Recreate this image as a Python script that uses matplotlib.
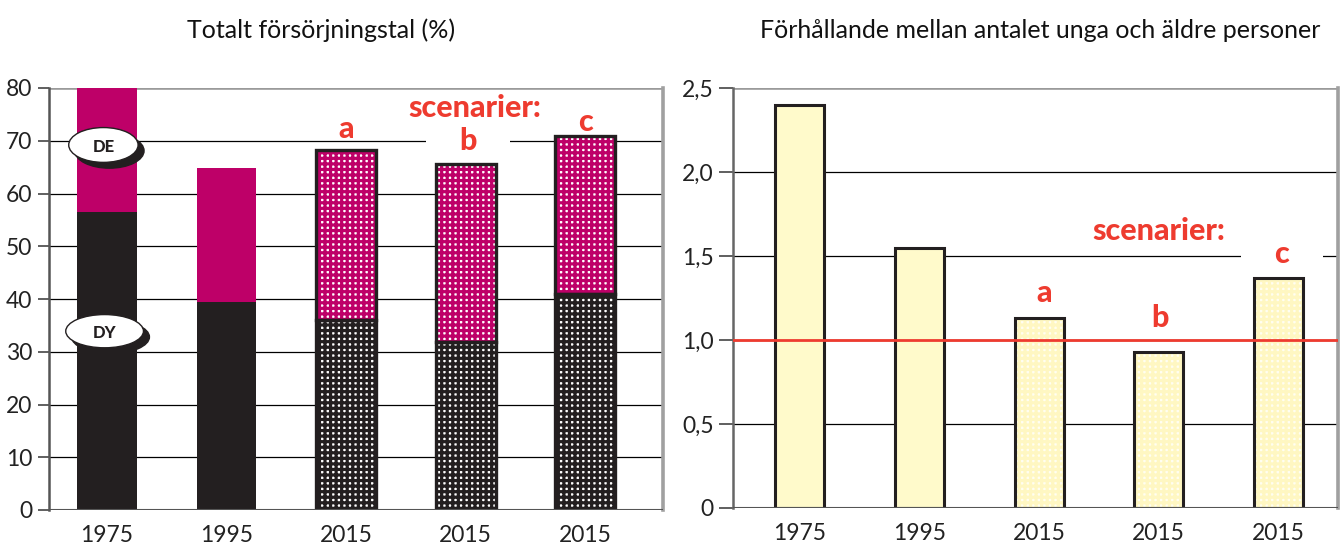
import matplotlib
matplotlib.use("Agg")
import matplotlib.pyplot as plt
from matplotlib.patches import Ellipse
import numpy as np

plt.rcParams['font.family'] = ['Lato', 'DejaVu Sans']
plt.rcParams['hatch.linewidth'] = 2.3

# ---- data ----
years = ['1975', '1995', '2015', '2015', '2015']
dy = [56.5, 39.5, 36.0, 31.8, 41.0]          # young dependency
de = [23.5, 25.4, 32.2, 33.8, 29.9]          # elderly dependency
ratio = [2.40, 1.55, 1.13, 0.93, 1.37]       # young / elderly
scen_labels = ['a', 'b', 'c']
left_ticks = [0, 10, 20, 30, 40, 50, 60, 70, 80]
right_ticks = [0, 0.5, 1.0, 1.5, 2.0, 2.5]
right_ticklabels = ['0', '0,5', '1,0', '1,5', '2,0', '2,5']

MAG = '#BE0068'
DARK = '#231F20'
YEL = '#FFFACB'
YEL_H = '#FFF7C2'
RED = '#EE3B2F'
RFS = 22

fig = plt.figure(figsize=(13.4, 5.46), dpi=100)
x = np.arange(len(years))


def red_label(ax, xx, yy, s, knockout=None):
    if knockout is not None:
        # white knockout behind the label, under the bars but over the gridlines
        ax.text(xx, yy, s, ha='center', va='center', fontsize=RFS, fontweight='black',
                color='white', zorder=1,
                bbox=dict(boxstyle='square,pad=%s' % knockout, facecolor='white',
                          edgecolor='none'))
    ax.text(xx, yy, s, ha='center', va='center', fontsize=RFS, fontweight='black',
            color=RED, zorder=6)


# ================= LEFT =================
ax1 = fig.add_axes([49/1340, 1-510/546, (663-49)/1340, (510-88)/546])
ax1.set_xlim(-0.485, 4.65)
ax1.set_ylim(0, 80)
for t in left_ticks[1:-1]:
    ax1.axhline(t, color='black', lw=0.9, zorder=0)
ax1.axhline(80, color='#9A9A9A', lw=2.6, zorder=0.5)
ax1.axhline(0, color='#555555', lw=1.5, zorder=3)

w1 = 0.5
for i in range(len(years)):
    if i < 2:
        ax1.bar(x[i], dy[i], w1, color=DARK, edgecolor=DARK, lw=0, zorder=2)
        ax1.bar(x[i], de[i], w1, bottom=dy[i], color=MAG, edgecolor=MAG, lw=0, zorder=2)
    else:
        ax1.bar(x[i], dy[i], w1, facecolor='white', edgecolor=DARK, hatch='+++', lw=0, zorder=2)
        ax1.bar(x[i], de[i], w1, bottom=dy[i], facecolor='white', edgecolor=MAG, hatch='+++', lw=0, zorder=2)
        ax1.bar(x[i], dy[i], w1, fill=False, edgecolor=DARK, lw=2.4, zorder=2.5)
        ax1.bar(x[i], de[i], w1, bottom=dy[i], fill=False, edgecolor=DARK, lw=2.4, zorder=2.5)

ax1.set_yticks(left_ticks)
ax1.set_yticklabels([str(t) for t in left_ticks], fontsize=16.5, color='#222222')
ax1.set_xticks(x)
ax1.set_xticklabels(years, fontsize=16.5, color='#222222')
ax1.tick_params(axis='y', length=8, width=1.2, color='#444444', pad=4)
ax1.tick_params(axis='x', length=0, pad=11)
for s in ['top', 'bottom']:
    ax1.spines[s].set_visible(False)
ax1.spines['left'].set_color('#555555')
ax1.spines['left'].set_linewidth(1.8)
ax1.spines['right'].set_color('#A0A0A0')
ax1.spines['right'].set_linewidth(2.6)

# DE / DY ellipse labels
for (cx, cy, ww, hh, txt) in [(-0.03, 69.2, 0.58, 6.6, 'DE'), (-0.02, 33.9, 0.65, 6.3, 'DY')]:
    sh = Ellipse((cx + 0.05, cy - 1.1), ww, hh, facecolor=DARK, edgecolor=DARK, zorder=4)
    el = Ellipse((cx, cy), ww, hh, facecolor='white', edgecolor=DARK, lw=1.0, zorder=5)
    ax1.add_patch(sh)
    ax1.add_patch(el)
    ax1.text(cx, cy - 0.3, txt, ha='center', va='center', fontsize=12, fontweight='black',
             color=DARK, zorder=6)

red_label(ax1, 3.08, 76.2, 'scenarier:')
red_label(ax1, x[2], 72.3, scen_labels[0])
red_label(ax1, x[3] + 0.02, 69.9, scen_labels[1], knockout=1.1)
red_label(ax1, x[4], 73.6, scen_labels[2])
fig.text(321/1340, 1-30/546, 'Totalt försörjningstal (%)', ha='center', va='center',
         fontsize=18, color='#111111')

# ================= RIGHT =================
ax2 = fig.add_axes([733/1340, 1-508/546, (1338-733)/1340, (508-88)/546])
ax2.set_xlim(-0.56, 4.5)
ax2.set_ylim(0, 2.5)
for t in right_ticks[1:-1]:
    ax2.axhline(t, color='black', lw=0.9, zorder=0)
ax2.axhline(2.5, color='#9A9A9A', lw=2.6, zorder=0.5)
ax2.axhline(0, color='#555555', lw=1.5, zorder=3)

w2 = 0.41
for i in range(len(years)):
    if i < 2:
        ax2.bar(x[i], ratio[i], w2, facecolor=YEL, edgecolor=DARK, lw=2.2, zorder=2)
    else:
        ax2.bar(x[i], ratio[i], w2, facecolor='#FFFEF2', edgecolor=YEL_H, hatch='+++', lw=0, zorder=2)
        ax2.bar(x[i], ratio[i], w2, fill=False, edgecolor=DARK, lw=2.2, zorder=2.5)

ax2.axhline(1.0, color=RED, lw=2.0, zorder=3.5)

ax2.set_yticks(right_ticks)
ax2.set_yticklabels(right_ticklabels, fontsize=16.5, color='#222222')
ax2.set_xticks(x)
ax2.set_xticklabels(years, fontsize=16.5, color='#222222')
ax2.tick_params(axis='y', length=10, width=1.2, color='#444444', pad=4)
ax2.tick_params(axis='x', length=0, pad=11)
for s in ['top', 'bottom']:
    ax2.spines[s].set_visible(False)
ax2.spines['left'].set_color('#666666')
ax2.spines['left'].set_linewidth(1.8)
ax2.spines['right'].set_color('#A0A0A0')
ax2.spines['right'].set_linewidth(2.6)

red_label(ax2, 3.0, 1.65, 'scenarier:')
red_label(ax2, x[2] + 0.04, 1.28, scen_labels[0])
red_label(ax2, x[3] + 0.01, 1.13, scen_labels[1])
red_label(ax2, x[4] + 0.03, 1.51, scen_labels[2], knockout=1.1)
fig.text(1040/1340, 1-30/546, 'Förhållande mellan antalet unga och äldre personer',
         ha='center', va='center', fontsize=18, color='#111111')

fig.savefig('out.png', dpi=100)
